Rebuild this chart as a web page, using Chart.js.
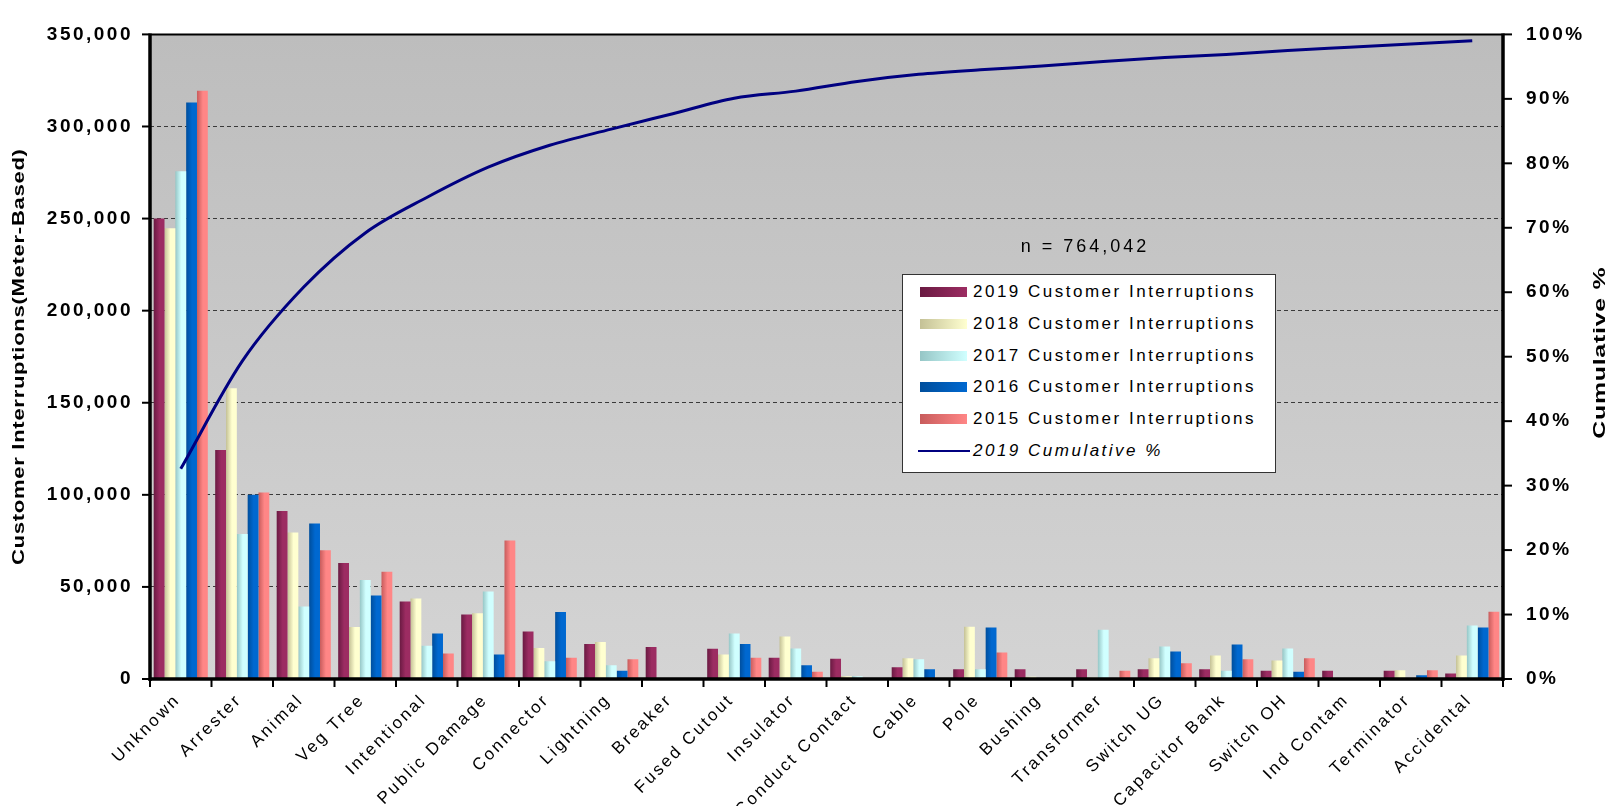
<!DOCTYPE html>
<html>
<head>
<meta charset="utf-8">
<script src="https://cdn.jsdelivr.net/npm/chart.js@4.4.1/dist/chart.umd.min.js"></script>
<style>
body { margin: 0; background: #fff; }
#wrap { position: relative; width: 1615px; height: 806px; }
#legendBox { position: absolute; left: 902px; top: 274px; width: 374px; height: 199px; background: #fff; border: 1px solid #333; box-sizing: border-box; font-family: 'Liberation Sans', Arial, sans-serif; font-size: 17px; letter-spacing: 2.5px; color: #000; }
.row { position: absolute; left: 0; width: 100%; height: 20px; line-height: 20px; }
.sw { position: absolute; left: 17px; top: 5px; width: 47px; height: 10px; }
.lbl { position: absolute; left: 70px; top: 0; white-space: nowrap; }
#nText { position: absolute; left: 985px; top: 236px; width: 200px; text-align: center; font: 18px 'Liberation Sans', Arial, sans-serif; letter-spacing: 3px; color: #000; }
</style>
</head>
<body>
<div id="wrap">
  <canvas id="paretoChart" width="1615" height="806"></canvas>
  <div id="nText">n = 764,042</div>
  <div id="legendBox"></div>
</div>
<script>
const categories = ['Unknown', 'Arrester', 'Animal', 'Veg Tree', 'Intentional', 'Public Damage', 'Connector',
    'Lightning', 'Breaker', 'Fused Cutout', 'Insulator', 'Conduct Contact', 'Cable', 'Pole', 'Bushing',
    'Transformer', 'Switch UG', 'Capacitor Bank', 'Switch OH', 'Ind Contam', 'Terminator', 'Accidental'];

const ci2019 = [250000, 124300, 91200, 63000, 42100, 35000, 25800, 19000, 17400, 16400, 11600, 11000, 6400, 5300, 5300, 5300, 5300, 5300, 4500, 4500, 4500, 3000];
const ci2018 = [244700, 157900, 79600, 28200, 43700, 35700, 16900, 20100, 0, 13300, 23100, 1500, 11200, 28400, 1200, 800, 11200, 12800, 10100, 0, 4800, 12800];
const ci2017 = [275700, 78700, 39400, 53700, 18100, 47500, 9600, 7500, 0, 24700, 16500, 1500, 10700, 5300, 0, 26700, 17600, 4500, 16500, 0, 500, 29000];
const ci2016 = [313000, 100000, 84500, 45400, 24700, 13300, 36400, 4500, 0, 19000, 7500, 500, 5300, 27900, 0, 0, 14900, 18700, 4000, 0, 2000, 27900];
const ci2015 = [319400, 101200, 69900, 58300, 13900, 75200, 11600, 10700, 0, 11600, 4000, 500, 300, 14400, 0, 4500, 8500, 10700, 11200, 0, 4800, 36500];

// 2019 cumulative %
const cumulative2019 = [32.6, 49.3, 60.8, 69.2, 74.7, 79.4, 82.8, 85.3, 87.7, 90.1, 91.2, 92.7, 93.8, 94.5, 95.1, 95.8, 96.4, 96.9, 97.5, 98.0, 98.5, 99.0];

const seriesNames = ['2019 Customer Interruptions', '2018 Customer Interruptions', '2017 Customer Interruptions',
    '2016 Customer Interruptions', '2015 Customer Interruptions'];
const seriesValues = [ci2019, ci2018, ci2017, ci2016, ci2015];
const darkColors = ['#6a1a42', '#c4c196', '#96c6c6', '#004e9c', '#c85c5c'];
const lightColors = ['#9c2c62', '#ffffd0', '#d0ffff', '#0068d0', '#ff8686'];

const FONT = "'Liberation Sans', Arial, sans-serif";
const GROUP = 0.88;

function barFill(k) {
    return (c) => {
        const xs = c.chart.scales.x;
        if (!xs || c.type !== 'data' || !xs.width) return lightColors[k];
        const catW = xs.width / categories.length;
        const groupW = catW * GROUP;
        const barW = groupW / seriesValues.length;
        const left = xs.getPixelForValue(c.dataIndex) - groupW / 2 + k * barW;
        const g = c.chart.ctx.createLinearGradient(left, 0, left + barW, 0);
        g.addColorStop(0, darkColors[k]);
        g.addColorStop(0.55, lightColors[k]);
        g.addColorStop(1, lightColors[k]);
        return g;
    };
}

// vertical axis title, stretched along its length like the original
function drawTitle(ctx, text, x, y, stretch) {
    ctx.save();
    ctx.fillStyle = '#000';
    ctx.textAlign = 'center';
    ctx.textBaseline = 'middle';
    ctx.font = 'bold 16px ' + FONT;
    ctx.letterSpacing = '0.5px';
    ctx.translate(x, y);
    ctx.rotate(-Math.PI / 2);
    ctx.scale(stretch, 1);
    ctx.fillText(text, 0, 0);
    ctx.restore();
}

// plot background, axis frame, tick marks and axis titles
const framePlugin = {
    id: 'frame',
    beforeUpdate(chart) { chart.ctx.letterSpacing = '2.5px'; },
    beforeDraw(chart) {
        const { ctx, chartArea: a } = chart;
        ctx.letterSpacing = '2.5px';
        const g = ctx.createLinearGradient(0, a.top, 0, a.bottom);
        g.addColorStop(0, '#bdbdbd');
        g.addColorStop(1, '#d4d4d4');
        ctx.save();
        ctx.fillStyle = g;
        ctx.fillRect(a.left, a.top, a.right - a.left, a.bottom - a.top);
        ctx.restore();
    },
    afterDraw(chart) {
        const { ctx, chartArea: a } = chart;
        const xs = chart.scales.x, ys = chart.scales.y, y1 = chart.scales.y1;
        const seg = (x1, yA, x2, yB) => { ctx.beginPath(); ctx.moveTo(x1, yA); ctx.lineTo(x2, yB); ctx.stroke(); };
        ctx.save();
        ctx.strokeStyle = '#000';
        ctx.lineWidth = 2;
        seg(a.left, a.top, a.right, a.top);
        ctx.lineWidth = 3.5;
        seg(a.left, a.top - 1, a.left, a.bottom + 2);
        seg(a.right, a.top - 1, a.right, a.bottom + 2);
        seg(a.left, a.bottom, a.right, a.bottom);
        ctx.lineWidth = 2;
        ys.ticks.forEach(t => { const p = ys.getPixelForValue(t.value); seg(a.left - 8, p, a.left, p); });
        y1.ticks.forEach(t => { const p = y1.getPixelForValue(t.value); seg(a.right, p, a.right + 9, p); });
        const catW = xs.width / categories.length;
        for (let i = 0; i <= categories.length; i++) {
            const p = a.left + i * catW;
            seg(p, a.bottom, p, a.bottom + 8);
        }
        ctx.restore();

        const mid = (a.top + a.bottom) / 2;
        drawTitle(ctx, 'Customer Interruptions(Meter-Based)', 20, mid, 1.38);
        drawTitle(ctx, 'Cumulative %', 1601, mid - 4, 1.55);
        ctx.letterSpacing = '2.5px';
    }
};

const datasets = seriesValues.map((vals, k) => ({
    type: 'bar',
    label: seriesNames[k],
    data: vals,
    yAxisID: 'y',
    backgroundColor: barFill(k),
    borderWidth: 0,
    categoryPercentage: GROUP,
    barPercentage: 1,
    order: 1
}));
datasets.push({
    type: 'line',
    label: '2019 Cumulative %',
    data: cumulative2019,
    yAxisID: 'y1',
    borderColor: '#000080',
    borderWidth: 3,
    pointRadius: 0,
    cubicInterpolationMode: 'monotone',
    fill: false,
    order: 0
});

const ctx = document.getElementById('paretoChart').getContext('2d');
const chart = new Chart(ctx, {
    data: { labels: categories, datasets: datasets },
    options: {
        responsive: false,
        animation: false,
        devicePixelRatio: 1,
        events: [],
        layout: { padding: { top: 23, left: 0, right: 0, bottom: 0 } },
        plugins: { legend: { display: false }, tooltip: { enabled: false } },
        scales: {
            x: {
                grid: { display: false, drawTicks: false },
                border: { display: false },
                ticks: { color: '#000', font: { family: FONT, size: 17 }, minRotation: 45, maxRotation: 45, autoSkip: false,
                    padding: 11, labelOffset: -3 },
                afterFit(s) { s.height = 127; }
            },
            y: {
                position: 'left',
                min: 0,
                max: 350000,
                grid: { color: '#3a3a3a', lineWidth: 1, drawTicks: false },
                border: { display: false, dash: [4, 3] },
                ticks: { stepSize: 50000, color: '#000', font: { family: FONT, size: 19, weight: 'bold' }, padding: 17,
                    callback: v => v.toLocaleString('en-US') },
                afterFit(s) { s.width = 150; }
            },
            y1: {
                position: 'right',
                min: 0,
                max: 100,
                grid: { display: false, drawTicks: false },
                border: { display: false },
                ticks: { stepSize: 10, color: '#000', font: { family: FONT, size: 19, weight: 'bold' }, padding: 23,
                    callback: v => v + '%' },
                afterFit(s) { s.width = 112; }
            }
        }
    },
    plugins: [framePlugin]
});

// legend box
const box = document.getElementById('legendBox');
seriesNames.forEach((name, k) => {
    const row = document.createElement('div');
    row.className = 'row';
    row.style.top = (7 + k * 31.8) + 'px';
    row.innerHTML = '<div class="sw" style="background:linear-gradient(to right,' + darkColors[k] + ',' + lightColors[k] + ')"></div>' +
        '<div class="lbl">' + name + '</div>';
    box.appendChild(row);
});
const lineRow = document.createElement('div');
lineRow.className = 'row';
lineRow.style.top = (7 + 5 * 31.8) + 'px';
lineRow.innerHTML = '<div class="sw" style="top:9px;height:2px;left:15px;width:52px;background:#000080"></div>' +
    '<div class="lbl" style="font-style:italic">2019 Cumulative %</div>';
box.appendChild(lineRow);
</script>
</body>
</html>
